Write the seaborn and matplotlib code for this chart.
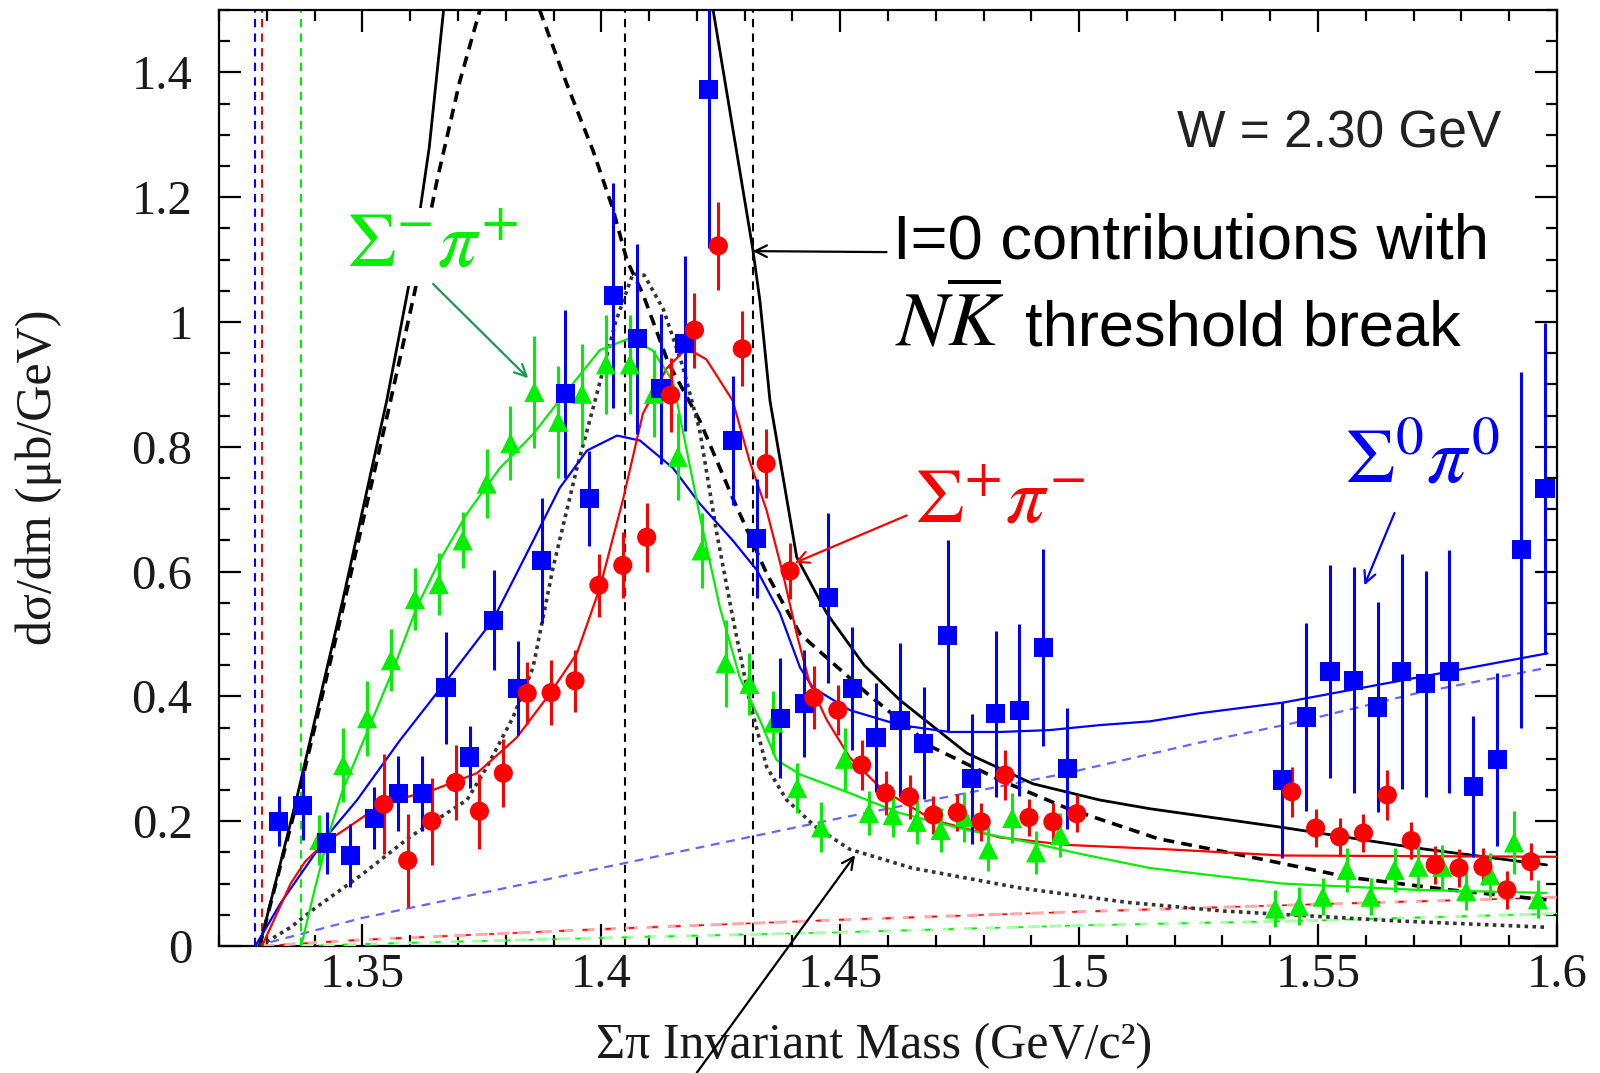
#!/usr/bin/env python3
"""
Sigma-pi invariant mass spectra at W = 2.30 GeV, with fits and I=0 curves.

Output
- out.png (1600x1073)
"""
import matplotlib as mpl
import matplotlib.pyplot as plt
import seaborn as sns

# ---- data ------------------------------------------------------------------
# Sigma0 pi0 (blue squares)
s0_x = [1.3325, 1.3375, 1.3425, 1.3475, 1.3525, 1.3575, 1.3625, 1.3675, 1.3725, 1.3775,
        1.3825, 1.3875, 1.3925, 1.3975, 1.4025, 1.4075, 1.4125, 1.4175, 1.4225, 1.4275,
        1.4325, 1.4375, 1.4425, 1.4475, 1.4525, 1.4575, 1.4625, 1.4675, 1.4725, 1.4775,
        1.4825, 1.4875, 1.4925, 1.4975,
        1.5425, 1.5475, 1.5525, 1.5575, 1.5625, 1.5675, 1.5725, 1.5775, 1.5825, 1.5875,
        1.5925, 1.5975]
s0_y = [0.200, 0.225, 0.165, 0.145, 0.205, 0.245, 0.245, 0.414, 0.303, 0.522,
        0.413, 0.618, 0.885, 0.717, 1.042, 0.973, 0.893, 0.966, 1.373, 0.810,
        0.653, 0.365, 0.389, 0.558, 0.413, 0.334, 0.362, 0.325, 0.498, 0.268,
        0.372, 0.378, 0.479, 0.285,
        0.266, 0.367, 0.440, 0.426, 0.383, 0.440, 0.420, 0.440, 0.256, 0.299,
        0.635, 0.733]
s0_err = [0.040, 0.055, 0.050, 0.050, 0.050, 0.060, 0.060, 0.090, 0.050, 0.080,
          0.075, 0.100, 0.135, 0.076, 0.180, 0.152, 0.120, 0.140, 0.255, 0.104,
          0.096, 0.096, 0.086, 0.136, 0.099, 0.088, 0.124, 0.090, 0.153, 0.104,
          0.133, 0.138, 0.158, 0.097,
          0.125, 0.151, 0.171, 0.181, 0.168, 0.189, 0.181, 0.195, 0.113, 0.138,
          0.285, 0.265]

# Sigma+ pi- (red circles)
sp_x = [1.3545, 1.3595, 1.3645, 1.3695, 1.3745, 1.3795, 1.3845, 1.3895, 1.3945, 1.3995,
        1.4045, 1.4095, 1.4145, 1.4195, 1.4245, 1.4295, 1.4345, 1.4395, 1.4445, 1.4495,
        1.4545, 1.4595, 1.4645, 1.4695, 1.4745, 1.4795, 1.4845, 1.4895, 1.4945, 1.4995,
        1.5445, 1.5495, 1.5545, 1.5595, 1.5645, 1.5695, 1.5745, 1.5795, 1.5845, 1.5895,
        1.5945]
sp_y = [0.227, 0.137, 0.200, 0.262, 0.216, 0.277, 0.405, 0.406, 0.425, 0.578,
        0.610, 0.655, 0.883, 0.987, 1.122, 0.957, 0.773, 0.601, 0.398, 0.378,
        0.290, 0.245, 0.239, 0.210, 0.214, 0.199, 0.274, 0.206, 0.199, 0.212,
        0.247, 0.189, 0.175, 0.181, 0.242, 0.169, 0.130, 0.125, 0.127, 0.090,
        0.135]
sp_err = [0.080, 0.075, 0.070, 0.060, 0.060, 0.055, 0.050, 0.052, 0.050, 0.050,
          0.053, 0.055, 0.060, 0.060, 0.070, 0.060, 0.055, 0.045, 0.050, 0.040,
          0.040, 0.035, 0.035, 0.030, 0.030, 0.030, 0.040, 0.030, 0.030, 0.030,
          0.040, 0.030, 0.030, 0.030, 0.040, 0.030, 0.030, 0.030, 0.030, 0.030,
          0.030]

# Sigma- pi+ (green triangles)
sm_x = [1.3410, 1.3460, 1.3510, 1.3560, 1.3610, 1.3660, 1.3710, 1.3760, 1.3810, 1.3860,
        1.3910, 1.3960, 1.4010, 1.4060, 1.4110, 1.4160, 1.4210, 1.4260, 1.4310, 1.4360,
        1.4410, 1.4460, 1.4510, 1.4560, 1.4610, 1.4660, 1.4710, 1.4760, 1.4810, 1.4860,
        1.4910, 1.4960,
        1.5410, 1.5460, 1.5510, 1.5560, 1.5610, 1.5660, 1.5710, 1.5760, 1.5810, 1.5860,
        1.5910, 1.5960]
sm_y = [0.170, 0.290, 0.365, 0.458, 0.556, 0.580, 0.650, 0.741, 0.806, 0.888,
        0.840, 0.885, 0.932, 0.932, 0.885, 0.784, 0.634, 0.453, 0.420, 0.358,
        0.253, 0.190, 0.300, 0.213, 0.210, 0.199, 0.186, 0.207, 0.155, 0.205,
        0.150, 0.178,
        0.060, 0.064, 0.079, 0.122, 0.079, 0.122, 0.127, 0.127, 0.088, 0.114,
        0.166, 0.075]
sm_err = [0.040, 0.060, 0.060, 0.050, 0.050, 0.050, 0.045, 0.055, 0.060, 0.090,
          0.090, 0.080, 0.080, 0.080, 0.070, 0.070, 0.060, 0.070, 0.050, 0.050,
          0.040, 0.040, 0.050, 0.035, 0.035, 0.035, 0.035, 0.040, 0.035, 0.040,
          0.035, 0.035,
          0.030, 0.030, 0.030, 0.035, 0.030, 0.035, 0.035, 0.035, 0.030, 0.035,
          0.050, 0.030]

fit0_x = [1.3276, 1.3330, 1.3380, 1.3430, 1.3489, 1.3579, 1.3677, 1.3773, 1.3844, 1.3913,
          1.3970, 1.4033, 1.4081, 1.4150, 1.4206, 1.4275, 1.4326, 1.4374, 1.4416, 1.4443,
          1.4520, 1.4625, 1.4729, 1.4834, 1.4938, 1.5043, 1.5148, 1.5252, 1.5426, 1.5706,
          1.5980]
fit0_y = [0.000, 0.070, 0.125, 0.180, 0.234, 0.330, 0.426, 0.522, 0.629, 0.734,
          0.794, 0.818, 0.810, 0.766, 0.709, 0.650, 0.602, 0.533, 0.446, 0.414,
          0.378, 0.354, 0.343, 0.343, 0.346, 0.354, 0.360, 0.373, 0.390, 0.430,
          0.469]
fitp_x = [1.3290, 1.3320, 1.3350, 1.3380, 1.3420, 1.3470, 1.3541, 1.3648, 1.3740, 1.3823,
          1.3893, 1.3949, 1.3997, 1.4045, 1.4087, 1.4137, 1.4179, 1.4220, 1.4275, 1.4310,
          1.4346, 1.4380, 1.4409, 1.4436, 1.4472, 1.4520, 1.4589, 1.4694, 1.4834, 1.4974,
          1.5183, 1.5426, 1.6000]
fitp_y = [0.000, 0.050, 0.100, 0.135, 0.165, 0.190, 0.228, 0.250, 0.277, 0.334,
          0.405, 0.469, 0.574, 0.714, 0.853, 0.926, 0.958, 0.940, 0.874, 0.778,
          0.698, 0.597, 0.500, 0.421, 0.362, 0.302, 0.250, 0.202, 0.174, 0.162,
          0.155, 0.145, 0.143]
fitm_x = [1.3372, 1.3400, 1.3430, 1.3459, 1.3509, 1.3564, 1.3614, 1.3662, 1.3719, 1.3788,
          1.3857, 1.3913, 1.3997, 1.4060, 1.4108, 1.4150, 1.4206, 1.4248, 1.4290, 1.4332,
          1.4367, 1.4416, 1.4520, 1.4625, 1.4765, 1.4903, 1.5000, 1.5148, 1.5426, 1.5706,
          1.5978]
fitm_y = [0.000, 0.090, 0.180, 0.250, 0.341, 0.442, 0.543, 0.618, 0.693, 0.766,
          0.820, 0.875, 0.955, 0.974, 0.954, 0.905, 0.690, 0.543, 0.430, 0.362,
          0.298, 0.275, 0.245, 0.213, 0.186, 0.165, 0.148, 0.125, 0.100, 0.090,
          0.085]

# background (dashed, coloured)
bg0_x = [1.3276, 1.3500, 1.3750, 1.4000, 1.4206, 1.4500, 1.4974, 1.5252, 1.5447, 1.5706, 1.5980]
bg0_y = [0.000, 0.045, 0.085, 0.125, 0.158, 0.205, 0.277, 0.326, 0.357, 0.405, 0.446]
bgp_x = [1.3290, 1.3500, 1.4000, 1.4500, 1.5000, 1.5500, 1.6000]
bgp_y = [0.000, 0.010, 0.027, 0.042, 0.055, 0.067, 0.078]
bgm_x = [1.3372, 1.3500, 1.4000, 1.4500, 1.5000, 1.5500, 1.6000]
bgm_y = [0.000, 0.003, 0.013, 0.022, 0.033, 0.041, 0.052]

# I=0 curves (black); the two tall ones leave the frame, so left/right branches
i0_left_x = [1.3285, 1.3363, 1.3459, 1.3551, 1.3600, 1.3640, 1.3670]
i0_left_y = [0.000, 0.238, 0.554, 0.874, 1.070, 1.280, 1.500]
i0_right_x = [1.4234, 1.4317, 1.4332, 1.4353, 1.4409, 1.4472, 1.4550, 1.4625, 1.4765, 1.4903,
              1.5043, 1.5148, 1.5426, 1.5706, 1.5978]
i0_right_y = [1.500, 1.117, 1.034, 0.874, 0.623, 0.533, 0.450, 0.394, 0.309, 0.260,
              0.234, 0.220, 0.190, 0.157, 0.130]
i0d_left_x = [1.3285, 1.3363, 1.3459, 1.3555, 1.3610, 1.3656, 1.3704, 1.3746]
i0d_left_y = [0.000, 0.230, 0.540, 0.860, 1.050, 1.226, 1.386, 1.500]
i0d_right_x = [1.3871, 1.3928, 1.3983, 1.4024, 1.4054, 1.4087, 1.4140, 1.4206, 1.4275, 1.4346,
               1.4416, 1.4485, 1.4556, 1.4694, 1.4834, 1.4974, 1.5165, 1.5357, 1.5566, 1.5775,
               1.5978]
i0d_right_y = [1.500, 1.381, 1.274, 1.182, 1.098, 1.045, 0.935, 0.842, 0.718, 0.597,
               0.500, 0.453, 0.405, 0.318, 0.266, 0.221, 0.172, 0.143, 0.110, 0.090,
               0.074]
i0dot_x = [1.3285, 1.3350, 1.3400, 1.3500, 1.3600, 1.3719, 1.3760, 1.3815, 1.3857, 1.3899,
           1.3949, 1.3987, 1.4030, 1.4066, 1.4090, 1.4130, 1.4170, 1.4206, 1.4242, 1.4275,
           1.4310, 1.4346, 1.4388, 1.4450, 1.4520, 1.4650, 1.4876, 1.5100, 1.5303, 1.5670,
           1.5980]
i0dot_y = [0.000, 0.030, 0.060, 0.115, 0.175, 0.234, 0.286, 0.366, 0.446, 0.606,
           0.766, 0.874, 1.000, 1.077, 1.075, 1.020, 0.930, 0.826, 0.660, 0.527,
           0.394, 0.287, 0.234, 0.190, 0.155, 0.125, 0.093, 0.070, 0.056, 0.040,
           0.030]

# thresholds (vertical dashed lines)
thresholds = [("#0000ff", 1.3276), ("#ff0000", 1.3290), ("#00ee00", 1.3372),
              ("black", 1.4049), ("black", 1.4317)]

BLUE = "#0000ff"
RED = "#ff0000"
GREEN = "#00f000"


def set_style():
    sns.set_theme(style="ticks")
    mpl.rcParams.update(
        {
            "font.family": ["Liberation Serif", "DejaVu Serif"],
            "mathtext.fontset": "stix",
            "axes.linewidth": 1.6,
            "axes.edgecolor": "black",
            "figure.facecolor": "white",
            "axes.facecolor": "white",
        }
    )


def line(ax, x, y, color, lw=1.6, ls="-", z=3):
    sns.lineplot(x=x, y=y, ax=ax, color=color, linewidth=lw, linestyle=ls,
                 sort=False, estimator=None, zorder=z)


def main():
    set_style()

    fig = plt.figure(figsize=(16, 10.73), dpi=100)
    ax = fig.add_axes([219 / 1600, 1 - 946 / 1073, 1338 / 1600, 936 / 1073])

    # threshold markers
    for c, xv in thresholds:
        ax.axvline(xv, color=c, lw=1.5, ls=(0, (4, 3)), zorder=2)

    # backgrounds
    line(ax, bg0_x, bg0_y, "#6666ff", lw=1.6, ls=(0, (4, 3)))
    line(ax, bgp_x, bgp_y, "#ffaaaa", lw=2.2, ls=(0, (4, 3)))
    line(ax, bgp_x, bgp_y, RED, lw=1.2, ls=(3.5, (3, 11)))
    line(ax, bgm_x, bgm_y, "#aaffaa", lw=2.2, ls=(0, (4, 3)))
    line(ax, bgm_x, bgm_y, GREEN, lw=1.2, ls=(3.5, (3, 11)))

    # I=0 curves
    line(ax, i0_left_x, i0_left_y, "black", lw=2.0)
    line(ax, i0_right_x, i0_right_y, "black", lw=2.0)
    line(ax, i0d_left_x, i0d_left_y, "black", lw=2.6, ls=(0, (3, 2)))
    line(ax, i0d_right_x, i0d_right_y, "black", lw=2.6, ls=(0, (3, 2)))
    line(ax, i0dot_x, i0dot_y, "#333333", lw=2.6, ls=(0, (1, 1.2)))

    # fits
    line(ax, fit0_x, fit0_y, BLUE, lw=1.6, z=4)
    line(ax, fitp_x, fitp_y, RED, lw=1.6, z=4)
    line(ax, fitm_x, fitm_y, GREEN, lw=1.6, z=4)

    # data with error bars
    for x, y, e, c, m, s in [
        (sm_x, sm_y, sm_err, GREEN, "^", 210),
        (s0_x, s0_y, s0_err, BLUE, "s", 190),
        (sp_x, sp_y, sp_err, RED, "o", 190),
    ]:
        ax.errorbar(x, y, yerr=e, fmt="none", ecolor=c, elinewidth=2.2, capsize=0, zorder=5)
        sns.scatterplot(x=x, y=y, ax=ax, marker=m, s=s, color=c, edgecolor="none",
                        linewidth=0, zorder=6, legend=False)

    # axes
    ax.set_xlim(1.32, 1.60)
    ax.set_ylim(0, 1.5)
    ax.xaxis.set_major_locator(mpl.ticker.MultipleLocator(0.05))
    ax.xaxis.set_minor_locator(mpl.ticker.MultipleLocator(0.01))
    ax.yaxis.set_major_locator(mpl.ticker.MultipleLocator(0.2))
    ax.yaxis.set_minor_locator(mpl.ticker.MultipleLocator(0.05))
    fmt = mpl.ticker.FuncFormatter(lambda v, _: f"{v:.2f}".rstrip("0").rstrip(".") if v else "0")
    ax.xaxis.set_major_formatter(fmt)
    ax.yaxis.set_major_formatter(fmt)
    ax.tick_params(which="both", direction="in", top=True, right=True, width=1.6,
                   color="black", labelcolor="#1a1a1a")
    ax.tick_params(which="major", length=16, labelsize=35)
    ax.tick_params(which="minor", length=8)
    ax.tick_params(axis="x", which="major", pad=5)
    ax.tick_params(axis="y", which="major", pad=19)
    for sp in ax.spines.values():
        sp.set_visible(True)
        sp.set_linewidth(1.6)

    ax.set_xlabel("Σπ Invariant Mass (GeV/c²)", fontsize=36, color="#1a1a1a")
    ax.xaxis.set_label_coords(0.49, -0.107)
    ax.xaxis.label.set_va("center")
    ax.set_ylabel("dσ/dm (μb/GeV)", fontsize=36, color="#1a1a1a")
    ax.yaxis.set_label_coords(-0.1345, 0.501)
    ax.yaxis.label.set_va("center")

    # texts
    sans = ["Liberation Sans", "DejaVu Sans"]
    ax.text(1.5543, 1.301, "W = 2.30 GeV", family=sans, fontsize=37, color="#222222",
            ha="center", va="center", zorder=8)
    ax.text(1.4610, 1.1024, "I=0 contributions with", family=sans, fontsize=45.5,
            color="black", ha="left", va="baseline", zorder=8)
    ax.text(1.4614, 0.963, r"$N\overline{K}$", fontsize=55,
            color="black", ha="left", va="baseline", zorder=8)
    ax.text(1.4887, 0.963, "threshold break", family=sans, fontsize=45.5,
            color="black", ha="left", va="baseline", zorder=8)
    ax.text(1.3468, 1.0896, r"$\Sigma^{-}\pi^{+}$", fontsize=56, color=GREEN,
            ha="left", va="baseline", zorder=8,
            bbox=dict(facecolor="white", edgecolor="none", pad=2))
    ax.text(1.4656, 0.678, r"$\Sigma^{+}\pi^{-}$", fontsize=56, color=RED,
            ha="left", va="baseline", zorder=8)
    ax.text(1.5556, 0.742, r"$\Sigma^{0}\pi^{0}$", fontsize=57, color=BLUE,
            ha="left", va="baseline", zorder=8)

    # arrows
    arrows = [
        ((1.3648, 1.061), (1.3847, 0.910), "#1a9a50"),
        ((1.4597, 1.112), (1.4317, 1.1136), "black"),
        ((1.4639, 0.690), (1.4405, 0.614), RED),
        ((1.5660, 0.694), (1.5597, 0.578), BLUE),
        ((1.4200, -0.203), (1.4531, 0.1456), "black"),
    ]
    for tail, head, c in arrows:
        ax.annotate("", xy=head, xytext=tail, annotation_clip=False, zorder=9,
                    arrowprops=dict(arrowstyle="->,head_length=0.7,head_width=0.35",
                                    color=c, lw=1.6, shrinkA=0, shrinkB=0))

    fig.savefig("out.png", dpi=100)


if __name__ == "__main__":
    main()
